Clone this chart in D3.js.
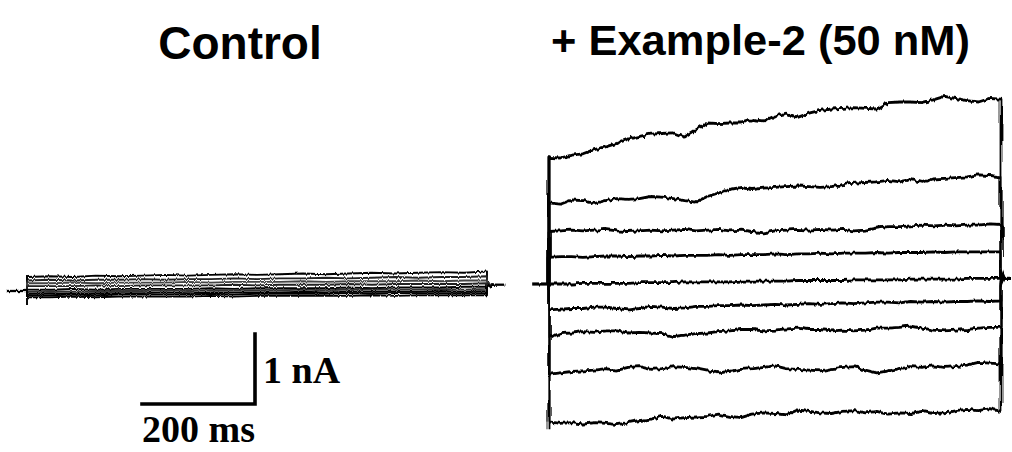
<!DOCTYPE html>
<html><head><meta charset="utf-8">
<script src="https://cdn.jsdelivr.net/npm/d3@7"></script>
<style>html,body{margin:0;padding:0;background:#fff;}svg{display:block;}</style>
</head><body>
<script>
// ---------- data ----------
const panelTitles = ["Control", "+ Example-2 (50 nM)"];
const scaleBarLabels = ["1 nA", "200 ms"];
const scaleBarValues = [1, 200]; // nA, ms

// +Example-2 panel: time points (ms) and current traces (nA)
const timesMs = [0,20,40,60,80,100,120,140,160,180,200,220,240,260,280,300,320,340,360,380,400,420,440,460,480,500,520,540,560,580,600,620,640,660,680,700,720,740,760,780,800];
const drugTrace1 = [1.81,1.80,1.84,1.86,1.92,1.96,2.01,2.07,2.11,2.14,2.15,2.16,2.10,2.20,2.30,2.29,2.30,2.30,2.35,2.33,2.40,2.44,2.38,2.44,2.48,2.50,2.51,2.52,2.51,2.50,2.59,2.60,2.60,2.59,2.63,2.68,2.65,2.62,2.60,2.65,2.64];
const drugTrace2 = [1.16,1.14,1.20,1.19,1.15,1.19,1.22,1.21,1.22,1.25,1.24,1.22,1.19,1.17,1.25,1.30,1.35,1.38,1.35,1.37,1.38,1.39,1.40,1.39,1.38,1.39,1.42,1.44,1.45,1.46,1.48,1.46,1.49,1.45,1.50,1.51,1.52,1.53,1.56,1.55,1.53];
const drugTrace3 = [0.75,0.76,0.77,0.76,0.77,0.78,0.76,0.75,0.76,0.77,0.76,0.77,0.78,0.76,0.77,0.78,0.76,0.77,0.75,0.73,0.76,0.77,0.78,0.77,0.78,0.77,0.78,0.76,0.77,0.80,0.82,0.82,0.83,0.84,0.83,0.84,0.83,0.84,0.84,0.86,0.85];
const drugTrace4 = [0.38,0.39,0.39,0.38,0.39,0.40,0.40,0.39,0.40,0.40,0.41,0.40,0.41,0.41,0.41,0.42,0.41,0.42,0.42,0.42,0.43,0.42,0.43,0.43,0.44,0.43,0.44,0.44,0.44,0.45,0.44,0.45,0.45,0.45,0.46,0.45,0.46,0.46,0.46,0.46,0.46];
const drugTrace5 = [0.00,0.00,0.00,0.01,0.01,0.01,0.01,0.01,0.02,0.02,0.02,0.02,0.03,0.03,0.03,0.03,0.03,0.04,0.04,0.04,0.04,0.04,0.05,0.05,0.05,0.05,0.05,0.06,0.06,0.06,0.06,0.06,0.07,0.07,0.07,0.07,0.07,0.08,0.08,0.08,0.08];
const drugTrace6 = [-0.37,-0.36,-0.35,-0.35,-0.33,-0.33,-0.35,-0.37,-0.35,-0.32,-0.33,-0.35,-0.34,-0.32,-0.32,-0.31,-0.31,-0.30,-0.31,-0.30,-0.29,-0.30,-0.29,-0.28,-0.29,-0.28,-0.27,-0.28,-0.27,-0.26,-0.26,-0.27,-0.25,-0.26,-0.25,-0.26,-0.25,-0.25,-0.24,-0.25,-0.24];
const drugTrace7 = [-0.76,-0.71,-0.70,-0.68,-0.69,-0.67,-0.67,-0.70,-0.69,-0.70,-0.71,-0.75,-0.73,-0.71,-0.70,-0.68,-0.67,-0.65,-0.65,-0.67,-0.66,-0.64,-0.63,-0.65,-0.65,-0.67,-0.66,-0.67,-0.66,-0.63,-0.63,-0.62,-0.60,-0.63,-0.66,-0.67,-0.66,-0.65,-0.63,-0.62,-0.62];
const drugTrace8 = [-1.29,-1.27,-1.25,-1.24,-1.23,-1.21,-1.23,-1.19,-1.18,-1.22,-1.21,-1.18,-1.19,-1.21,-1.24,-1.27,-1.25,-1.22,-1.21,-1.19,-1.17,-1.21,-1.22,-1.23,-1.24,-1.21,-1.19,-1.18,-1.23,-1.27,-1.24,-1.21,-1.18,-1.19,-1.17,-1.19,-1.18,-1.16,-1.12,-1.13,-1.14];
const drugTrace9 = [-1.97,-1.99,-1.98,-2.00,-1.98,-1.99,-2.01,-1.98,-1.95,-1.93,-1.89,-1.93,-1.91,-1.90,-1.89,-1.86,-1.89,-1.91,-1.86,-1.84,-1.85,-1.87,-1.80,-1.82,-1.84,-1.85,-1.82,-1.81,-1.84,-1.82,-1.86,-1.84,-1.85,-1.82,-1.85,-1.84,-1.81,-1.79,-1.81,-1.78,-1.82];
const drugHolding = [0, 0.08];          // holding current before / after the pulse (nA)
const drugTransient = [1.84, -2.09];    // onset capacitive transient extremes (nA)
const drugTailStart = [0.14, 0.11, 0.08, 0.05, 0.02, -0.02, -0.05, -0.08, -0.11];

// Control panel: time points (ms) and current traces (nA)
const controlTimesMs = [0,40,80,120,160,200,240,280,320,360,400,440,480,520,560,600,640,680,720,760,800];
const ctrlTrace1 = [0.20,0.21,0.20,0.22,0.21,0.22,0.23,0.22,0.23,0.24,0.23,0.24,0.25,0.24,0.25,0.26,0.25,0.26,0.27,0.26,0.28];
const ctrlTrace2 = [0.15,0.16,0.15,0.16,0.16,0.17,0.16,0.17,0.17,0.18,0.17,0.18,0.18,0.19,0.18,0.19,0.20,0.19,0.20,0.20,0.21];
const ctrlTrace3 = [0.11,0.11,0.12,0.11,0.12,0.12,0.12,0.13,0.12,0.13,0.13,0.13,0.14,0.13,0.14,0.14,0.14,0.15,0.14,0.15,0.15];
const ctrlTrace4 = [0.07,0.07,0.07,0.08,0.07,0.08,0.08,0.08,0.08,0.09,0.08,0.09,0.09,0.09,0.10,0.09,0.10,0.10,0.10,0.10,0.11];
const ctrlTrace5 = [0.02,0.02,0.03,0.02,0.03,0.03,0.03,0.03,0.04,0.03,0.04,0.04,0.04,0.04,0.05,0.04,0.05,0.05,0.05,0.06,0.06];
const ctrlTrace6 = [-0.01,0.00,-0.01,0.00,0.00,0.00,0.01,0.00,0.01,0.01,0.01,0.01,0.02,0.01,0.02,0.02,0.02,0.02,0.03,0.02,0.03];
const ctrlTrace7 = [-0.04,-0.03,-0.04,-0.03,-0.03,-0.03,-0.02,-0.03,-0.02,-0.02,-0.02,-0.02,-0.01,-0.02,-0.01,-0.01,-0.01,-0.01,0.00,-0.01,0.00];
const ctrlTrace8 = [-0.06,-0.06,-0.05,-0.06,-0.05,-0.05,-0.05,-0.05,-0.04,-0.05,-0.04,-0.04,-0.04,-0.04,-0.03,-0.04,-0.03,-0.03,-0.03,-0.03,-0.03];
const ctrlTrace9 = [-0.09,-0.09,-0.08,-0.09,-0.08,-0.08,-0.08,-0.08,-0.07,-0.08,-0.07,-0.07,-0.07,-0.07,-0.07,-0.06,-0.07,-0.06,-0.06,-0.06,-0.06];
const ctrlHolding = [0, 0.09];
const ctrlTransient = [0.23, -0.20];
const ctrlTailStart = [0.03, 0.02, 0.01, 0.0, -0.01, -0.01, -0.02, -0.03, -0.04];

// ---------- drawing ----------
const W = 1012, H = 452;
const svg = d3.select("body").append("svg").attr("width", W).attr("height", H)
  .style("background", "#fff");

const defs = svg.append("defs");
function noiseFilter(id, freq, scale, seed) {
  const f = defs.append("filter").attr("id", id)
    .attr("x", "-5%").attr("y", "-20%").attr("width", "110%").attr("height", "140%");
  f.append("feTurbulence").attr("type", "fractalNoise")
    .attr("baseFrequency", freq).attr("numOctaves", 2).attr("seed", seed).attr("result", "n");
  f.append("feDisplacementMap").attr("in", "SourceGraphic").attr("in2", "n")
    .attr("scale", scale).attr("xChannelSelector", "R").attr("yChannelSelector", "G");
}
noiseFilter("jitter", "0.3 0.02", 4.5, 3);
noiseFilter("jitterC", "0.5 0.05", 3, 7);

// Scales (time in ms -> px, current in nA -> px)
const xDrug = d3.scaleLinear().domain([0, 800]).range([549, 1001]);
const yDrug = d3.scaleLinear().domain([0, 1]).range([284, 214]);
const xCtrl = d3.scaleLinear().domain([0, 800]).range([27, 487]);
const yCtrl = d3.scaleLinear().domain([0, 1]).range([291, 221]);

const line = (xs, ys) => d3.line().x(d => xs(d[0])).y(d => ys(d[1])).curve(d3.curveLinear);

function drawPanel(g, times, traces, xs, ys, hold, transient, tailStart, preMs, postMs, width, colors) {
  g.append("path").attr("d", line(xs, ys)([[preMs, hold[0]], [0, hold[0]]]))
    .attr("fill", "none").attr("stroke", "#000").attr("stroke-width", width + 0.4);
  g.append("path").attr("d", line(xs, ys)([[800, hold[1]], [800 + postMs, hold[1]]]))
    .attr("fill", "none").attr("stroke", "#000").attr("stroke-width", width + 0.4);
  g.append("path").attr("d", line(xs, ys)([[0, transient[0]], [0, transient[1]]]))
    .attr("fill", "none").attr("stroke", "#000").attr("stroke-width", width);
  traces.forEach((vals, i) => {
    const pts = [[0, hold[0]]].concat(times.map((t, k) => [t, vals[k]]));
    pts.push([800, hold[1] + tailStart[i]]);
    pts.push([800 + postMs * 0.35, hold[1]]);
    g.append("path").attr("d", line(xs, ys)(pts))
      .attr("fill", "none").attr("stroke", colors ? colors[i] : "#000").attr("stroke-width", width)
      .attr("stroke-linejoin", "round");
  });
}

const ctrlColors = ["#000", "#222", "#444", "#222", "#000", "#333", "#000", "#000", "#000"];
const gCtrl = svg.append("g").attr("filter", "url(#jitterC)");
drawPanel(gCtrl, controlTimesMs,
  [ctrlTrace1, ctrlTrace2, ctrlTrace3, ctrlTrace4, ctrlTrace5, ctrlTrace6, ctrlTrace7, ctrlTrace8, ctrlTrace9],
  xCtrl, yCtrl, ctrlHolding, ctrlTransient, ctrlTailStart, -35, 32, 1.9, ctrlColors);

const gDrug = svg.append("g").attr("filter", "url(#jitter)");
drawPanel(gDrug, timesMs,
  [drugTrace1, drugTrace2, drugTrace3, drugTrace4, drugTrace5, drugTrace6, drugTrace7, drugTrace8, drugTrace9],
  xDrug, yDrug, drugHolding, drugTransient, drugTailStart, -28, 16, 2.8, null);

// Titles
svg.append("text").text(panelTitles[0])
  .attr("x", 240).attr("y", 59).attr("text-anchor", "middle")
  .attr("font-family", "'Liberation Sans', Arial, sans-serif").attr("font-weight", "bold")
  .attr("font-size", 46).attr("fill", "#000");
svg.append("text").text(panelTitles[1])
  .attr("x", 551).attr("y", 55)
  .attr("font-family", "'Liberation Sans', Arial, sans-serif").attr("font-weight", "bold")
  .attr("font-size", 42).attr("fill", "#000")
  .attr("textLength", 419).attr("lengthAdjust", "spacingAndGlyphs");

// Scale bar (sizes from the scales)
const cornerX = 255, cornerY = 404;
const barW = xDrug(scaleBarValues[1]) - xDrug(0);
const barH = yDrug(0) - yDrug(scaleBarValues[0]);
svg.append("path")
  .attr("d", `M${cornerX - barW},${cornerY}H${cornerX}V${cornerY - barH}`)
  .attr("fill", "none").attr("stroke", "#000").attr("stroke-width", 3.6)
  .attr("stroke-linecap", "square");
svg.append("text").text(scaleBarLabels[0])
  .attr("x", cornerX + 8).attr("y", 383)
  .attr("font-family", "'Liberation Serif', 'Times New Roman', serif").attr("font-weight", "bold")
  .attr("font-size", 38).attr("fill", "#000");
svg.append("text").text(scaleBarLabels[1])
  .attr("x", cornerX - barW).attr("y", 442)
  .attr("font-family", "'Liberation Serif', 'Times New Roman', serif").attr("font-weight", "bold")
  .attr("font-size", 38).attr("fill", "#000");
</script>
</body></html>
